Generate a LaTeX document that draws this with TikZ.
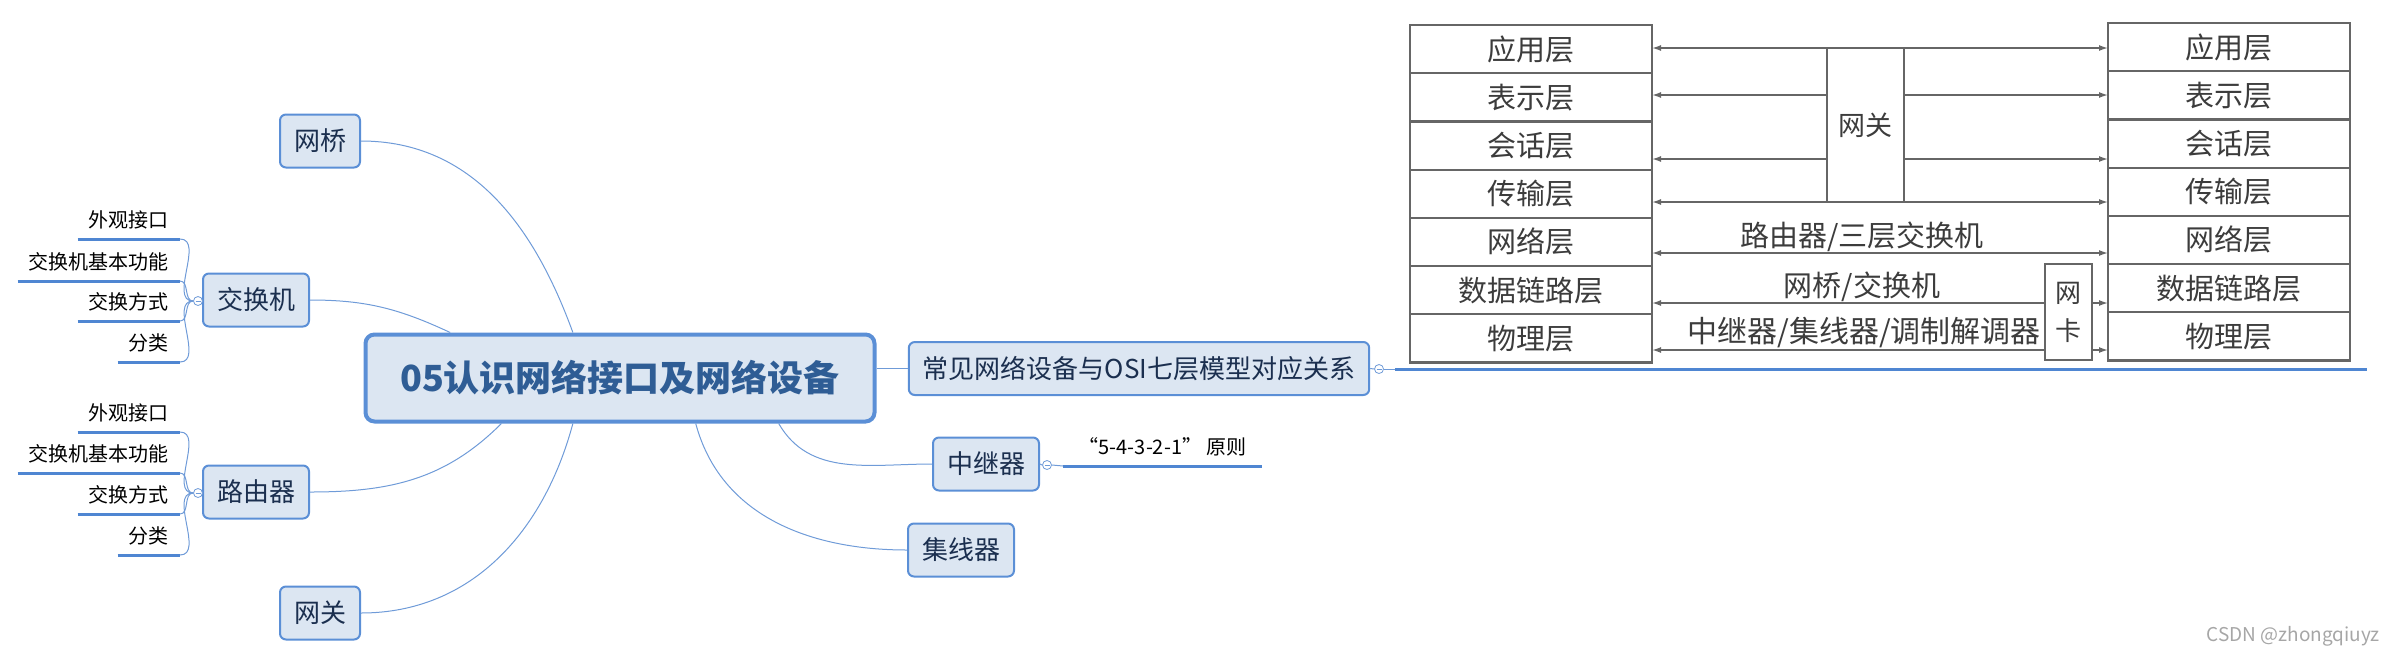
\documentclass[tikz,border=0pt]{standalone}
\usepackage{fontspec}
\setmainfont{Noto Sans CJK SC}
\usetikzlibrary{arrows.meta, positioning}

\definecolor{mmblue}{HTML}{5B8FD6}
\definecolor{mmfill}{HTML}{DCE6F2}
\definecolor{mmline}{HTML}{6F9BD8}
\definecolor{leafblue}{HTML}{4F86D2}
\definecolor{rootink}{HTML}{2F5D95}
\definecolor{topicink}{HTML}{1B2F4F}
\definecolor{tablegray}{HTML}{666666}
\definecolor{tableink}{HTML}{3C3C3C}

\begin{document}
\begin{tikzpicture}[
        x=1pt, y=1pt,
        root/.style={rectangle, draw=mmblue, line width=4pt, fill=mmfill, rounded corners=9pt, text=rootink, font=\fontsize{36}{40}\selectfont\bfseries, minimum width=509pt, minimum height=87pt},
        topic/.style={rectangle, draw=mmblue, line width=2pt, fill=mmfill, rounded corners=6pt, text=topicink, font=\fontsize{26}{30}\selectfont, inner xsep=14pt, minimum height=53pt},
        leaf/.style={font=\fontsize{20}{24}\selectfont, inner xsep=11pt, inner ysep=0pt, text depth=11pt},
        uline/.style={draw=leafblue, line width=3pt},
        link/.style={draw=mmline, line width=1pt},
        knob/.style={circle, draw=mmline, fill=white, line width=0.8pt, minimum size=9pt, inner sep=0pt,
            path picture={\draw[mmline, line width=0.8pt] ([xshift=-2.5pt]path picture bounding box.center) -- ([xshift=2.5pt]path picture bounding box.center);}},
        layer/.style={rectangle, draw=tablegray, line width=2.2pt, minimum width=242pt, minimum height=48.2pt, outer sep=0pt, text=tableink, font=\fontsize{29}{32}\selectfont},
        box/.style={rectangle, draw=tablegray, line width=2.2pt, outer sep=0pt, inner sep=0pt, align=center, text=tableink},
        lbl/.style={text=tableink, font=\fontsize{29}{32}\selectfont, inner sep=1pt},
        arr/.style={draw=tablegray, line width=1.5pt, -{Latex[length=9pt,width=6pt]}},
        biarr/.style={draw=tablegray, line width=1.5pt, {Latex[length=9pt,width=6pt]}-{Latex[length=9pt,width=6pt]}}
    ]
    \useasboundingbox (0,0) rectangle (2385,-657);

    % mind map
    \node[root] (core) at (620,-378) {05认识网络接口及网络设备};

    \node[topic] (qiao) at (320,-141) {网桥};
    \node[topic] (sw) at (256,-300) {交换机};
    \node[topic] (rt) at (256,-492) {路由器};
    \node[topic] (gate) at (320,-613) {网关};
    \node[topic] (osi) at (1139,-368.5) {常见网络设备与OSI七层模型对应关系};
    \node[topic] (rep) at (986,-464) {中继器};
    \node[topic] (hub) at (961,-550) {集线器};

    \node[knob] (swk) at (198,-301) {};
    \node[knob] (rtk) at (198,-493) {};
    \node[knob] (osik) at (1379,-369) {};
    \node[knob] (repk) at (1047,-465) {};

    \node[leaf, anchor=south east] (sw1) at (180,-239) {外观接口};
    \node[leaf, anchor=south east] (sw2) at (180,-281) {交换机基本功能};
    \node[leaf, anchor=south east] (sw3) at (180,-321) {交换方式};
    \node[leaf, anchor=south east] (sw4) at (180,-362) {分类};

    \node[leaf, anchor=south east] (rt1) at (180,-432) {外观接口};
    \node[leaf, anchor=south east] (rt2) at (180,-473) {交换机基本功能};
    \node[leaf, anchor=south east] (rt3) at (180,-514) {交换方式};
    \node[leaf, anchor=south east] (rt4) at (180,-555) {分类};

    \node[leaf, anchor=south west, minimum width=199pt] (rule) at (1063,-466) {“5-4-3-2-1” 原则};

    \coordinate (osiA) at (1395,-369);
    \coordinate (osiB) at (2367,-369);

    \draw[link] (qiao.east) to[out=0, in=110] (core.136);
    \draw[link] (sw.east) to[out=0, in=155] (core.165);
    \draw[link] (rt.east) to[out=0, in=-135] (core.201);
    \draw[link] (gate.east) to[out=0, in=-105] (core.224);
    \draw[link] (core.-16) to[out=-60, in=180] (rep.west);
    \draw[link] (core.-31) to[out=-75, in=180] (hub.west);
    \draw[link] (core.east |- osi.west) -- (osi.west);

    \draw[link] (swk) -- (sw.west);
    \draw[link] (rtk) -- (rt.west);
    \draw[link] (osi.east) -- (osik.west);
    \draw[link] (osik.east) -- (osiA);
    \draw[uline] (osiA) -- (osiB);
    \draw[link] (rep.east) -- (repk.west);
    \draw[link] (repk.east) -- (rule.south west);
    \draw[uline] (rule.south west) -- (rule.south east);

    \draw[uline] (sw1.south west) -- (sw1.south east);
    \draw[uline] (sw2.south west) -- (sw2.south east);
    \draw[uline] (sw3.south west) -- (sw3.south east);
    \draw[uline] (sw4.south west) -- (sw4.south east);
    \draw[link] (sw1.south east) to[out=0, in=180] (swk.west);
    \draw[link] (sw2.south east) to[out=0, in=180] (swk.west);
    \draw[link] (sw3.south east) to[out=0, in=180] (swk.west);
    \draw[link] (sw4.south east) to[out=0, in=180] (swk.west);

    \draw[uline] (rt1.south west) -- (rt1.south east);
    \draw[uline] (rt2.south west) -- (rt2.south east);
    \draw[uline] (rt3.south west) -- (rt3.south east);
    \draw[uline] (rt4.south west) -- (rt4.south east);
    \draw[link] (rt1.south east) to[out=0, in=180] (rtk.west);
    \draw[link] (rt2.south east) to[out=0, in=180] (rtk.west);
    \draw[link] (rt3.south east) to[out=0, in=180] (rtk.west);
    \draw[link] (rt4.south east) to[out=0, in=180] (rtk.west);

    % OSI table
    \node[layer] (L1) at (1531,-49.1) {应用层};
    \node[layer, below=0pt of L1] (L2) {表示层};
    \node[layer, below=0pt of L2] (L3) {会话层};
    \node[layer, below=0pt of L3] (L4) {传输层};
    \node[layer, below=0pt of L4] (L5) {网络层};
    \node[layer, below=0pt of L5] (L6) {数据链路层};
    \node[layer, below=0pt of L6] (L7) {物理层};

    \node[layer] (R1) at (2229,-47.1) {应用层};
    \node[layer, below=0pt of R1] (R2) {表示层};
    \node[layer, below=0pt of R2] (R3) {会话层};
    \node[layer, below=0pt of R3] (R4) {传输层};
    \node[layer, below=0pt of R4] (R5) {网络层};
    \node[layer, below=0pt of R5] (R6) {数据链路层};
    \node[layer, below=0pt of R6] (R7) {物理层};

    \node[box, minimum width=77pt, minimum height=154pt, font=\fontsize{27}{30}\selectfont] (gw) at (1865.5,-125) {网关};
    \node[box, minimum width=47pt, minimum height=96pt, font=\fontsize{26}{38}\selectfont] (nic) at (2068.5,-312) {网\\卡};

    \coordinate (lv1) at (0,-48);
    \coordinate (lv2) at (0,-95);
    \coordinate (lv3) at (0,-159);
    \coordinate (lv4) at (0,-202);
    \coordinate (lv5) at (0,-253);
    \coordinate (lv6) at (0,-303);
    \coordinate (lv7) at (0,-350);

    \draw[arr] (gw.west |- lv1) -- (L1.east |- lv1);
    \draw[arr] (gw.east |- lv1) -- (R1.west |- lv1);
    \draw[arr] (gw.west |- lv2) -- (L2.east |- lv2);
    \draw[arr] (gw.east |- lv2) -- (R2.west |- lv2);
    \draw[arr] (gw.west |- lv3) -- (L3.east |- lv3);
    \draw[arr] (gw.east |- lv3) -- (R3.west |- lv3);
    \draw[arr] (gw.west |- lv4) -- (L4.east |- lv4);
    \draw[arr] (gw.east |- lv4) -- (R4.west |- lv4);
    \draw[biarr] (L5.east |- lv5) -- node[lbl, above, pos=0.46] {路由器/三层交换机} (R5.west |- lv5);
    \draw[arr] (nic.west |- lv6) -- node[lbl, above, pos=0.466] {网桥/交换机} (L6.east |- lv6);
    \draw[arr] (nic.east |- lv6) -- (R6.west |- lv6);
    \draw[arr] (nic.west |- lv7) -- node[lbl, above, pos=0.46, font=\fontsize{30}{33}\selectfont] {中继器/集线器/调制解调器} (L7.east |- lv7);
    \draw[arr] (nic.east |- lv7) -- (R7.west |- lv7);

    \node[text=gray!70, font=\fontsize{19}{22}\selectfont, anchor=west] (mark) at (2203,-636) {CSDN @zhongqiuyz};
\end{tikzpicture}
\end{document}
